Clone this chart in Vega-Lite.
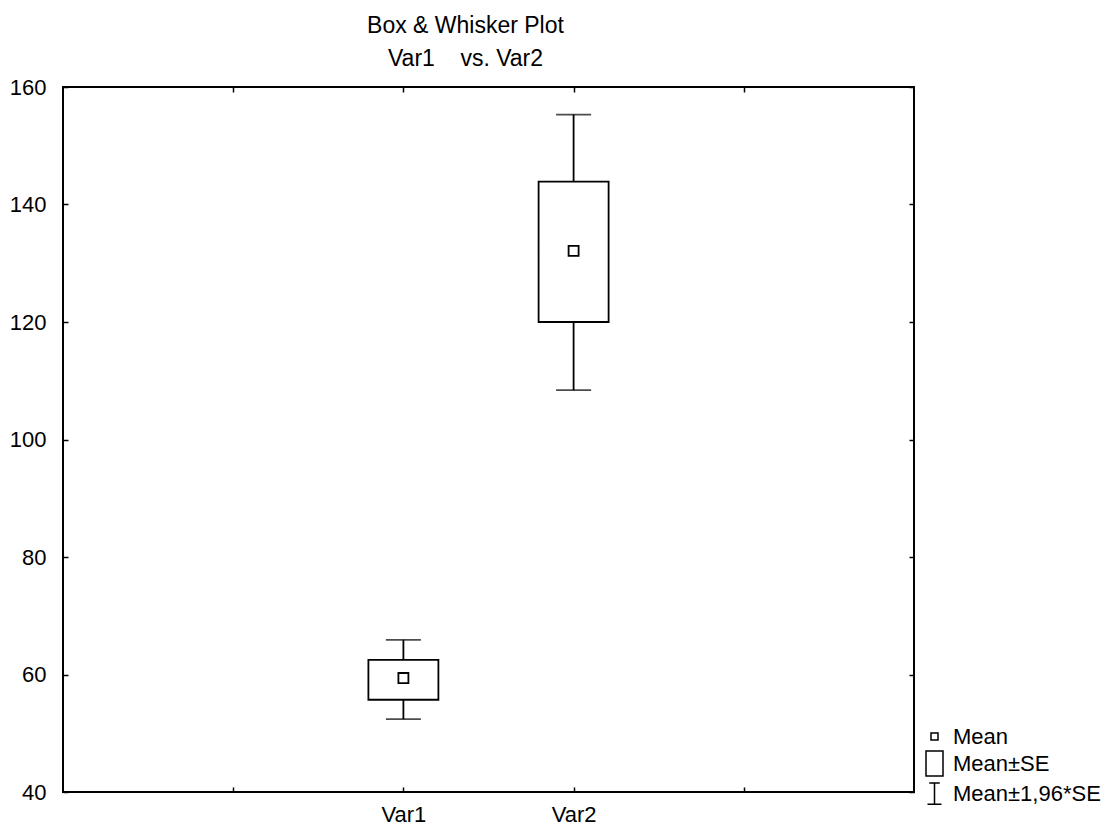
{
  "$schema": "https://vega.github.io/schema/vega-lite/v6.json",
  "width": 851,
  "height": 705,
  "autosize": {"type": "none"},
  "padding": {"left": 63, "top": 87, "right": 197, "bottom": 36},
  "background": "white",
  "config": {
    "font": "Liberation Sans",
    "view": {"stroke": "black", "strokeWidth": 2},
    "axis": {"grid": false, "domain": false, "tickColor": "black", "tickWidth": 1.5, "labelColor": "black", "labelFontSize": 22, "labelFont": "Liberation Sans", "title": null},
    "legend": {"labelFontSize": 22, "labelColor": "black", "labelFont": "Liberation Sans", "symbolStrokeColor": "black", "symbolStrokeWidth": 1.5, "symbolSize": 625}
  },
  "title": {
    "text": ["Box & Whisker Plot", "Var1\u00a0\u00a0\u00a0 vs. Var2"],
    "fontSize": 23,
    "fontWeight": "normal",
    "font": "Liberation Sans",
    "color": "black",
    "anchor": "middle",
    "dx": -23,
    "offset": 5,
    "lineHeight": 33
  },
  "data": {
    "values": [
      {"var": "Var1", "stat": "Mean", "mean": 59.4, "se_lo": 55.7, "se_hi": 62.5, "ci_lo": 52.4, "ci_hi": 65.9},
      {"var": "Var2", "stat": "Mean", "mean": 132.1, "se_lo": 120.0, "se_hi": 143.9, "ci_lo": 108.4, "ci_hi": 155.3}
    ]
  },
  "layer": [
    {
      "mark": {"type": "rule", "color": "black", "strokeWidth": 1.8},
      "encoding": {
        "x": {"field": "var", "type": "nominal", "scale": {"type": "point", "domain": ["a", "Var1", "Var2", "b"], "padding": 1},
              "axis": {"orient": "bottom", "labelAngle": 0, "tickSize": -5, "labelPadding": 17, "labelExpr": "datum.value == 'Var1' || datum.value == 'Var2' ? datum.value : ''"}},
        "y": {"field": "ci_lo", "type": "quantitative", "scale": {"domain": [40, 160], "nice": false, "zero": false},
              "axis": {"orient": "left", "values": [40, 60, 80, 100, 120, 140, 160], "tickSize": -5, "labelPadding": 22}},
        "y2": {"field": "ci_hi"}
      }
    },
    {
      "mark": {"type": "bar", "fill": "white", "stroke": "black", "strokeWidth": 1.8, "size": 70},
      "encoding": {
        "x": {"field": "var", "type": "nominal", "axis": null},
        "y": {"field": "se_lo", "type": "quantitative", "axis": null},
        "y2": {"field": "se_hi"}
      }
    },
    {
      "mark": {"type": "tick", "color": "black", "size": 35, "thickness": 1.8},
      "encoding": {
        "x": {"field": "var", "type": "nominal", "axis": null},
        "y": {"field": "ci_lo", "type": "quantitative", "axis": null}
      }
    },
    {
      "mark": {"type": "tick", "color": "black", "size": 35, "thickness": 1.8},
      "encoding": {
        "x": {"field": "var", "type": "nominal", "axis": null},
        "y": {"field": "ci_hi", "type": "quantitative", "axis": null}
      }
    },
    {
      "mark": {"type": "point", "filled": false, "color": "black", "strokeWidth": 1.8, "size": 1276, "opacity": 1},
      "encoding": {
        "x": {"field": "var", "type": "nominal", "axis": {"orient": "top", "labels": false, "tickSize": -5}},
        "y": {"field": "mean", "type": "quantitative", "axis": {"orient": "right", "labels": false, "values": [40, 60, 80, 100, 120, 140, 160], "tickSize": -5}},
        "shape": {
          "field": "stat",
          "type": "nominal",
          "scale": {
            "domain": ["Mean", "Mean±SE", "Mean±1,96*SE"],
            "range": ["M-0.28,-0.28H0.28V0.28H-0.28Z", "M-0.68,-1H0.68V1H-0.68Z", "M-0.42,-0.85H0.42M0,-0.85V0.85M-0.56,0.85H0.56"]
          },
          "legend": {
            "orient": "none",
            "legendX": 858,
            "legendY": 636,
            "title": null,
            "labelOffset": 5,
            "rowPadding": 0,
            "labelLimit": 300
          }
        }
      }
    }
  ],
  "resolve": {"axis": {"x": "independent", "y": "independent"}}
}
